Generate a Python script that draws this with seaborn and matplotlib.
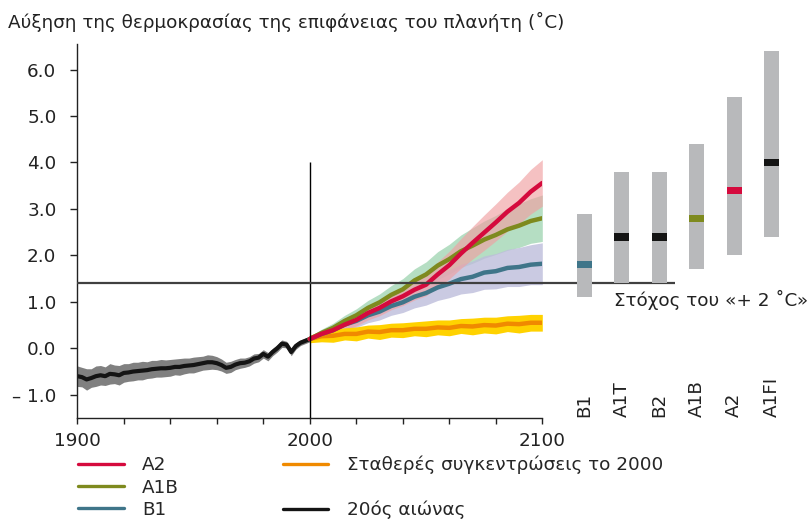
import numpy as np
import pandas as pd
import matplotlib
matplotlib.use("Agg")
import matplotlib.pyplot as plt
from matplotlib.lines import Line2D
import matplotlib.transforms as mtransforms
import seaborn as sns

# ---- observed 20th-century warming (relative to 1980-1999) ----
hist_years = list(range(1900, 2001, 2))
hist_mean = [-0.60, -0.62, -0.67, -0.64, -0.60, -0.58, -0.60, -0.55, -0.56, -0.58,
             -0.53, -0.52, -0.50, -0.49, -0.48, -0.47, -0.45, -0.44, -0.43, -0.43,
             -0.42, -0.40, -0.40, -0.38, -0.37, -0.36, -0.34, -0.32, -0.30, -0.30,
             -0.32, -0.36, -0.42, -0.40, -0.35, -0.32, -0.31, -0.28, -0.22, -0.20,
             -0.12, -0.18, -0.08, 0.00, 0.10, 0.08, -0.08, 0.05, 0.12, 0.16, 0.20]
hist_spread = [0.22, 0.21, 0.23, 0.20, 0.22, 0.21, 0.20, 0.22, 0.20, 0.21,
               0.20, 0.19, 0.20, 0.19, 0.20, 0.18, 0.19, 0.18, 0.19, 0.18,
               0.18, 0.17, 0.18, 0.17, 0.16, 0.17, 0.16, 0.15, 0.16, 0.15,
               0.14, 0.13, 0.12, 0.12, 0.11, 0.11, 0.10, 0.10, 0.10, 0.09,
               0.09, 0.09, 0.08, 0.08, 0.08, 0.07, 0.08, 0.07, 0.06, 0.06, 0.06]

# ---- multi-model projections 2000-2100 ----
proj_years = list(range(2000, 2101, 5))
a2_mean = [0.20, 0.31, 0.39, 0.51, 0.61, 0.76, 0.87, 1.01, 1.12, 1.26, 1.37,
           1.59, 1.79, 2.04, 2.27, 2.49, 2.71, 2.94, 3.13, 3.37, 3.56]
a2_spread = [0.05, 0.08, 0.10, 0.12, 0.13, 0.15, 0.17, 0.18, 0.20, 0.22, 0.24,
             0.27, 0.30, 0.32, 0.35, 0.38, 0.40, 0.42, 0.45, 0.48, 0.50]
a1b_mean = [0.20, 0.33, 0.44, 0.59, 0.71, 0.87, 0.99, 1.15, 1.27, 1.46, 1.59,
            1.78, 1.92, 2.09, 2.21, 2.34, 2.44, 2.56, 2.64, 2.74, 2.80]
a1b_spread = [0.05, 0.08, 0.10, 0.12, 0.14, 0.16, 0.18, 0.20, 0.23, 0.25, 0.27,
              0.30, 0.32, 0.35, 0.38, 0.40, 0.42, 0.45, 0.47, 0.48, 0.50]
b1_mean = [0.20, 0.31, 0.39, 0.51, 0.59, 0.71, 0.79, 0.91, 0.99, 1.11, 1.19,
           1.31, 1.39, 1.49, 1.54, 1.63, 1.66, 1.73, 1.75, 1.80, 1.82]
b1_spread = [0.05, 0.08, 0.10, 0.12, 0.14, 0.16, 0.18, 0.20, 0.22, 0.24, 0.26,
             0.28, 0.30, 0.32, 0.34, 0.36, 0.38, 0.40, 0.42, 0.43, 0.45]
const_mean = [0.20, 0.26, 0.27, 0.31, 0.31, 0.36, 0.35, 0.39, 0.39, 0.42, 0.42,
              0.45, 0.44, 0.48, 0.47, 0.50, 0.49, 0.53, 0.52, 0.55, 0.55]
const_spread = [0.08, 0.12, 0.14, 0.13, 0.15, 0.14, 0.16, 0.15, 0.16, 0.15, 0.17,
                0.16, 0.17, 0.16, 0.18, 0.17, 0.18, 0.17, 0.19, 0.18, 0.18]

# ---- best estimate and likely range at 2090-2099 per SRES scenario ----
sres_names = ["B1", "A1T", "B2", "A1B", "A2", "A1FI"]
sres_best = [1.8, 2.4, 2.4, 2.8, 3.4, 4.0]
sres_low = [1.1, 1.4, 1.4, 1.7, 2.0, 2.4]
sres_high = [2.9, 3.8, 3.8, 4.4, 5.4, 6.4]

target_level = 1.4  # 2 degC above pre-industrial

legend_labels = ["A2", "A1B", "B1", "Σταθερές συγκεντρώσεις το 2000", "20ός αιώνας"]

c_a2, c_a1b, c_b1 = "#d50a3d", "#7e8a1e", "#3f7589"
c_const, c_hist = "#f08a00", "#141414"
band_a2, band_a1b, band_b1 = "#f0a0a2", "#a3d6b4", "#bdbddb"
band_const, band_hist = "#ffd200", "#808080"
bar_grey = "#b8b9bb"
mid_colors = [c_b1, "#141414", "#141414", c_a1b, c_a2, "#141414"]

sns.set_theme(style="ticks")
plt.rcParams["font.family"] = ["DejaVu Sans"]
FS = 13.2

fig = plt.figure(figsize=(8.09, 5.23), dpi=100)
W, H = 809, 523
ax = fig.add_axes([77.3 / W, (H - 418) / H, 465 / W, 374 / H])
ax2 = fig.add_axes([565.25 / W, (H - 418) / H, 225 / W, 374 / H])
ylim = (-1.5, 6.55)

# long tables for seaborn
proj = pd.DataFrame({
    "year": proj_years * 4,
    "value": a1b_mean + b1_mean + a2_mean + const_mean,
    "scenario": ["A1B"] * 21 + ["B1"] * 21 + ["A2"] * 21 + ["const"] * 21,
})
hist = pd.DataFrame({"year": hist_years, "value": hist_mean})

# uncertainty bands
def band(years, mean, spread, color, alpha):
    m, s = np.array(mean), np.array(spread)
    ax.fill_between(years, m - s, m + s, color=color, alpha=alpha, lw=0)

band(hist_years, hist_mean, hist_spread, band_hist, 1.0)
band(proj_years, a1b_mean, a1b_spread, band_a1b, 0.8)
band(proj_years, b1_mean, b1_spread, band_b1, 0.8)
band(proj_years, a2_mean, a2_spread, band_a2, 0.65)
band(proj_years, const_mean, const_spread, band_const, 1.0)

sns.lineplot(data=hist, x="year", y="value", color=c_hist, lw=3, ax=ax, legend=False)
sns.lineplot(data=proj, x="year", y="value", hue="scenario",
             hue_order=["const", "B1", "A1B", "A2"],
             palette={"A2": c_a2, "A1B": c_a1b, "B1": c_b1, "const": c_const},
             lw=3.2, ax=ax, legend=False)

# reference lines
ax.vlines(2000, ylim[0], 4.0, color="black", lw=1.0, zorder=5)
ax.hlines(target_level, 1900, 2157, color="#404040", lw=1.6, clip_on=False, zorder=6)

ax.set_xlim(1900, 2100)
ax.set_ylim(*ylim)
ax.set_xticks(range(1900, 2101, 20))
ax.set_xticklabels([str(y) if y % 100 == 0 else "" for y in range(1900, 2101, 20)])
yt = list(range(-1, 7))
ax.set_yticks(yt)
ax.set_yticklabels([("– " + f"{abs(v):.1f}") if v < 0 else f"{v:.1f}" for v in yt])
ax.tick_params(axis="y", length=5, width=1, pad=10, labelsize=FS, colors="#222222")
ax.tick_params(axis="x", length=4, width=1, pad=6, labelsize=FS, colors="#222222")
ax.set_xlabel("")
ax.set_ylabel("")
for side in ("top", "right"):
    ax.spines[side].set_visible(False)
for side in ("left", "bottom"):
    ax.spines[side].set_linewidth(1.0)
    ax.spines[side].set_color("#222222")
ax.patch.set_alpha(0)

# SRES likely ranges
pos = np.arange(len(sres_names))
ax2.bar(pos, np.array(sres_high) - np.array(sres_low), bottom=sres_low,
        width=0.4, color=bar_grey, lw=0)
ax2.bar(pos, [0.16] * len(pos), bottom=np.array(sres_best) - 0.08,
        width=0.4, color=mid_colors, lw=0)
ax2.set_xlim(-0.5, len(sres_names) - 0.5)
ax2.set_ylim(*ylim)
ax2.axis("off")
tr = mtransforms.blended_transform_factory(ax2.transData, ax2.transAxes)
for p, name in zip(pos, sres_names):
    ax2.text(p, 0.003, name, rotation=90, ha="center", va="bottom",
             fontsize=FS, color="#222222", transform=tr)

fig.text(614 / W, 1 - 300 / H, "Στόχος του «+ 2 ˚C»", fontsize=FS,
         ha="left", va="center", color="#222222")
fig.text(8 / W, 1 - 22 / H, "Αύξηση της θερμοκρασίας της επιφάνειας του πλανήτη (˚C)",
         fontsize=FS, ha="left", va="center", color="#222222")

handles = [Line2D([], [], color=c_a2, lw=2.4), Line2D([], [], color=c_a1b, lw=2.4),
           Line2D([], [], color=c_b1, lw=2.4), Line2D([], [], color=c_const, lw=2.4),
           Line2D([], [], color="none", lw=0), Line2D([], [], color=c_hist, lw=2.4)]
labels = legend_labels[:3] + [legend_labels[3], "", legend_labels[4]]
fig.legend(handles, labels, loc="upper left", bbox_to_anchor=(78 / W, 1 - 456 / H),
           ncol=2, frameon=False, fontsize=FS, handlelength=2.5, handletextpad=1.0,
           labelspacing=0.22, columnspacing=5.65, borderaxespad=0, borderpad=0)

fig.savefig("out.png", dpi=100)
